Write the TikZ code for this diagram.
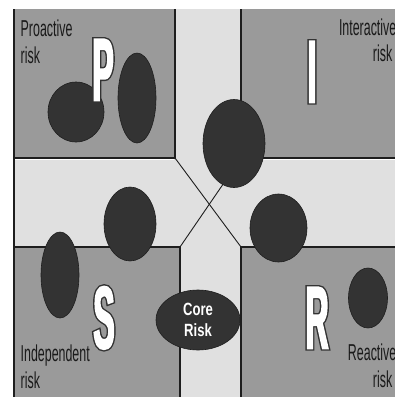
\documentclass[tikz,border=0pt]{standalone}
\usepackage{fontspec}
\usetikzlibrary{shapes.geometric}

% condensed sans faces for the labels and the big letters
\newfontfamily\narrowsans{Liberation Sans}[FakeStretch=0.54]
\newfontfamily\corefont{Liberation Sans}[FakeStretch=0.74]
\newfontfamily\letterface{Liberation Sans}[FakeStretch=0.36, FakeBold=1.8]
\newfontfamily\letterrim{Liberation Sans}[FakeStretch=0.36, FakeBold=5]

\definecolor{bandgray}{HTML}{E0E0E0}
\definecolor{quadgray}{HTML}{9A9A9A}
\definecolor{blobdark}{HTML}{333333}
\definecolor{edgedark}{HTML}{1E1E1E}
\definecolor{txtdark}{HTML}{1A1A1A}

\tikzset{
  quad/.style={fill=quadgray},
  rim/.style={draw=edgedark, line width=1.2pt},
  crossline/.style={draw=edgedark, line width=0.9pt},
  blob/.style={ellipse, fill=blobdark, draw=edgedark, line width=0.6pt,
               inner sep=0pt, outer sep=0pt},
  risklabel/.style={font=\narrowsans\fontsize{23}{26}\selectfont,
                    text=txtdark, inner sep=0pt},
  corelabel/.style={font=\corefont\bfseries\fontsize{17.7}{22}\selectfont,
                    text=white, align=center, inner sep=0pt},
  letterrimbox/.style={font=\letterrim\bfseries\fontsize{89}{89}\selectfont,
                    text=blobdark, inner sep=0pt, anchor=base},
  letterbox/.style={font=\letterface\bfseries\fontsize{89}{89}\selectfont,
                    text=white, inner sep=0pt, anchor=base},
}

% quadrant letter: a heavy dark rim under a white face
\newcommand\quadletter[3]{%
  \node[letterrimbox] at (#2) {#3};
  \node[letterbox] (#1) at (#2) {#3};}

\begin{document}
\begin{tikzpicture}[x=1pt, y=-1pt]
  \useasboundingbox (0,0) rectangle (395,397);

  % light cross-shaped band behind everything
  \fill[bandgray] (14,9) rectangle (395,397);

  % four quadrants
  \fill[quad] (14,9) rectangle (175,158);
  \fill[quad] (241,9) rectangle (395,158);
  \fill[quad] (14,247) rectangle (180,397);
  \fill[quad] (241,247) rectangle (395,397);

  % inner corners of the quadrants
  \coordinate (tlc) at (175,158);
  \coordinate (trc) at (241,158);
  \coordinate (blc) at (180,247);
  \coordinate (brc) at (241,247);

  % quadrant rims
  \draw[white, line width=0.8pt] (14,159.6) -- (174.4,159.6);
  \draw[white, line width=0.8pt] (241.6,159.6) -- (395,159.6);
  \draw[rim] (175,9) -- (tlc) -- (14,158);
  \draw[rim] (241,9) -- (trc) -- (395,158);
  \draw[rim] (14,247) -- (blc) -- (180,397);
  \draw[rim] (395,247) -- (brc) -- (241,397);
  \draw[rim] (14,9) -- (14,397);

  % diagonals crossing the central band
  \draw[crossline] (tlc) -- (brc);
  \draw[crossline] (blc) -- (trc);

  % risk blobs
  \node[blob, minimum width=56pt, minimum height=60pt] (p1) at (76,112) {};
  \node[blob, minimum width=38pt, minimum height=90pt] (p2) at (137,98) {};
  \node[blob, minimum width=62pt, minimum height=88pt] (i1) at (234,143.5) {};
  \node[blob, minimum width=52pt, minimum height=74pt] (s1) at (130,224) {};
  \node[blob, minimum width=38pt, minimum height=86pt] (s2) at (60,275) {};
  \node[blob, minimum width=57pt, minimum height=68pt] (r1) at (278.5,228) {};
  \node[blob, minimum width=39pt, minimum height=60pt] (r2) at (368,298) {};
  \node[blob, minimum width=84pt, minimum height=60pt] (core) at (198,320) {};
  \node[corelabel] (coretext) at (core.center) {Core\\[-1pt]Risk};

  % quadrant letters
  \quadletter{letP}{103,100.5}{P}
  \quadletter{letI}{312,102.5}{I}
  \quadletter{letS}{104,348.5}{S}
  \quadletter{letR}{317,348.5}{R}

  % quadrant captions
  \node[risklabel, anchor=base west] (pro1) at (20.5,36.5) {Proactive};
  \node[risklabel, anchor=base west] (pro2) at (20.5,63) {risk};
  \node[risklabel, anchor=base east] (int1) at (396.5,35) {Interactive};
  \node[risklabel, anchor=base east] (int2) at (392.5,61.5) {risk};
  \node[risklabel, anchor=base west] (ind1) at (20.5,361.5) {Independent};
  \node[risklabel, anchor=base west] (ind2) at (20.5,388) {risk};
  \node[risklabel, anchor=base east] (rea1) at (396.5,360) {Reactive};
  \node[risklabel, anchor=base east] (rea2) at (392.5,387) {risk};
\end{tikzpicture}
\end{document}
